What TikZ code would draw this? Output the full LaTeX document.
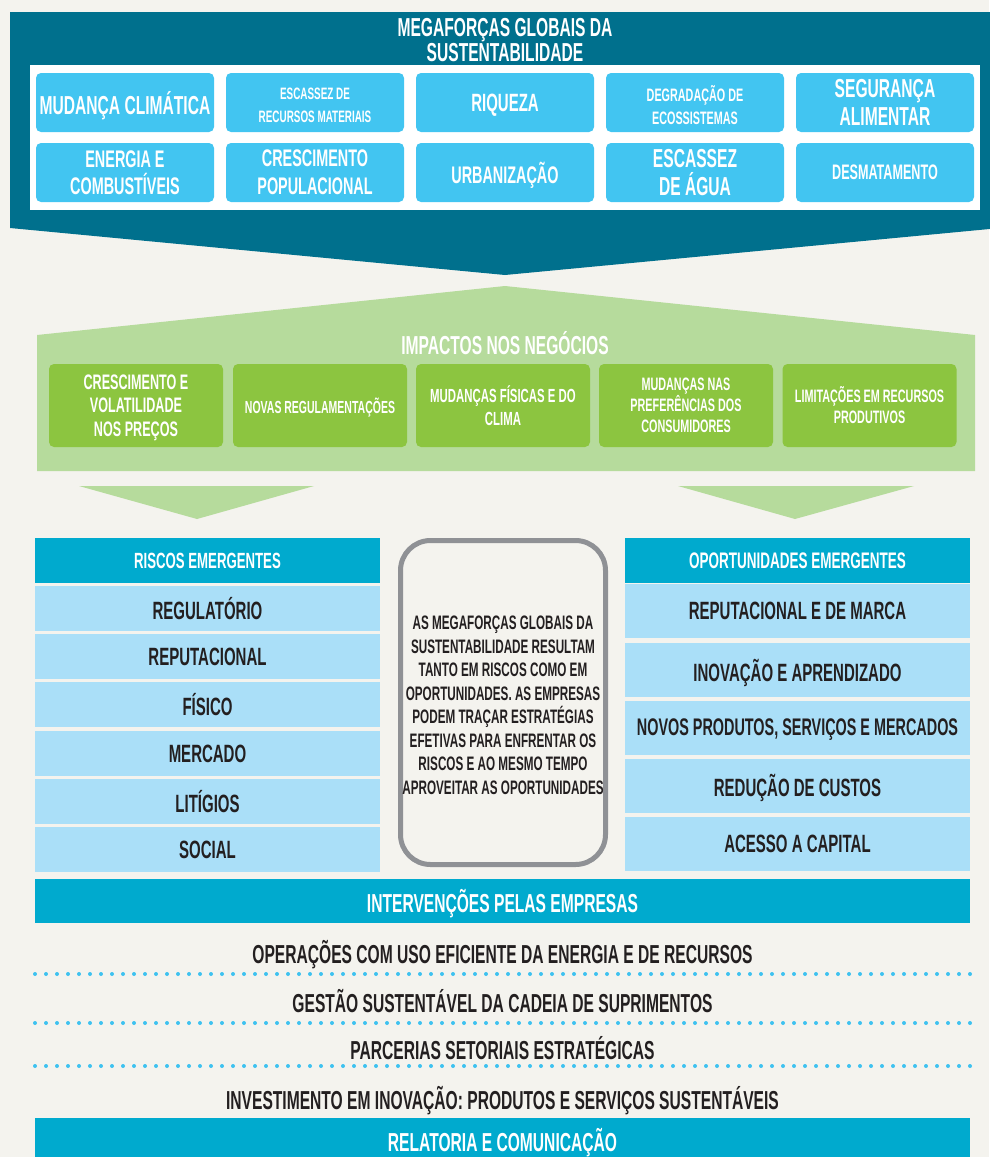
\documentclass[tikz,border=0pt]{standalone}
\usepackage{fontspec}
\setmainfont{Liberation Sans}[FakeStretch=0.6]
\newcommand\fz[2]{\fontsize{#1pt}{#2pt}\selectfont\bfseries}
\definecolor{bgc}{HTML}{F4F3EE}
\definecolor{tealdark}{HTML}{00708D}
\definecolor{topblue}{HTML}{42C5F1}
\definecolor{lgreen}{HTML}{B6DB9C}
\definecolor{dgreen}{HTML}{8CC540}
\definecolor{cyanh}{HTML}{00AACE}
\definecolor{lblue}{HTML}{AADFF8}
\definecolor{grayb}{HTML}{8F9195}
\definecolor{dotc}{HTML}{3EC2F0}
\definecolor{dtext}{HTML}{231F20}
\tikzset{
  box/.style={rectangle, inner sep=0pt, outer sep=0pt},
  tbox/.style={box, fill=topblue, rounded corners=5pt, minimum width=178pt, minimum height=59pt, text=white, align=center},
  gbox/.style={box, fill=dgreen, rounded corners=5pt, minimum width=174pt, minimum height=83pt, text=white, align=center},
  one/.style={text depth=0pt},
  hdr/.style={box, fill=cyanh, minimum width=345pt, minimum height=45pt, text=white, font=\fz{22}{26}, text depth=0pt},
  litem/.style={box, fill=lblue, minimum width=345pt, minimum height=45pt, text=dtext, font=\fz{25}{30}, text depth=0pt},
  ritem/.style={box, fill=lblue, minimum width=345pt, minimum height=54pt, text=dtext, font=\fz{25}{30}, text depth=0pt},
  bar/.style={box, fill=cyanh, minimum width=935pt, minimum height=44pt, text=white, font=\fz{26}{30}, text depth=0pt},
  iline/.style={box, text=dtext, font=\fz{26}{30}, text depth=0pt},
  tlabel/.style={box, text=white, align=center},
  dots/.style={dotc, line width=4pt, line cap=round, dash pattern=on 0pt off 11pt},
}
\begin{document}
\begin{tikzpicture}[x=1pt,y=-1pt]
\useasboundingbox (0,0) rectangle (989,1157);
\fill[bgc] (0,0) rectangle (989,1157);
% top megaforces shape
\fill[tealdark] (10,12) -- (1000,12) -- (1000,228) -- (505,275) -- (10,228) -- cycle;
\node[box, text=white, align=center, font=\fz{26}{25}, text depth=0pt] (title) at (505,40) {MEGAFORÇAS GLOBAIS DA\\SUSTENTABILIDADE};
\fill[white] (30,65) rectangle (980,210);
\node[tbox, one, font=\fz{26}{30}] (n11) at (125,102.5) {MUDANÇA CLIMÁTICA};
\node[tbox] (n12) at (315,102.5) {};
\node[tlabel, font=\fz{16.5}{23}] (n12t) at (315,105.5) {ESCASSEZ DE\\RECURSOS MATERIAIS};
\node[tbox, one, font=\fz{25}{30}] (n13) at (505,102.5) {RIQUEZA};
\node[tbox] (n14) at (695,102.5) {};
\node[tlabel, font=\fz{18}{23}] (n14t) at (695,105) {DEGRADAÇÃO DE\\ECOSSISTEMAS};
\node[tbox, font=\fz{26}{28}] (n15) at (885,102.5) {SEGURANÇA\\ALIMENTAR};
\node[tbox, font=\fz{24}{27}] (n21) at (125,172.5) {ENERGIA E\\COMBUSTÍVEIS};
\node[tbox, font=\fz{24}{28}] (n22) at (315,172.5) {CRESCIMENTO\\POPULACIONAL};
\node[tbox, one, font=\fz{24}{28}] (n23) at (505,172.5) {URBANIZAÇÃO};
\node[tbox, font=\fz{26}{28}] (n24) at (695,172.5) {ESCASSEZ\\DE ÁGUA};
\node[tbox, one, font=\fz{21}{26}] (n25) at (885,172.5) {DESMATAMENTO};
% business impacts
\fill[lgreen] (37,335) -- (505,286) -- (975,335) -- (975,471) -- (37,471) -- cycle;
\node[box, text=white, font=\fz{26}{30}, text depth=0pt] (gtitle) at (505,343) {IMPACTOS NOS NEGÓCIOS};
\node[gbox, font=\fz{21}{23.5}, text depth=0pt] (g1) at (136,405.5) {CRESCIMENTO E\\VOLATILIDADE\\NOS PREÇOS};
\node[gbox, one, font=\fz{17.5}{22}] (g2) at (320,405.5) {NOVAS REGULAMENTAÇÕES};
\node[gbox, font=\fz{19}{23}] (g3) at (503,405.5) {MUDANÇAS FÍSICAS E DO\\CLIMA};
\node[gbox, font=\fz{18}{21}] (g4) at (686,405.5) {MUDANÇAS NAS\\PREFERÊNCIAS DOS\\CONSUMIDORES};
\node[gbox, font=\fz{18}{21}] (g5) at (869.5,405.5) {LIMITAÇÕES EM RECURSOS\\PRODUTIVOS};
\fill[lgreen] (79,486) -- (314,486) -- (197,519) -- cycle;
\fill[lgreen] (678,486) -- (914,486) -- (795,519) -- cycle;
% risks
\node[hdr] (rh) at (207.5,560.5) {RISCOS EMERGENTES};
\node[litem] (r1) at (207.5,608.5) {REGULATÓRIO};
\node[litem] (r2) at (207.5,656.5) {REPUTACIONAL};
\node[litem] (r3) at (207.5,704.5) {FÍSICO};
\node[litem] (r4) at (207.5,753.5) {MERCADO};
\node[litem] (r5) at (207.5,801.5) {LITÍGIOS};
\node[litem] (r6) at (207.5,849.5) {SOCIAL};
% opportunities
\node[hdr, font=\fz{22.5}{26}] (oh) at (797.5,560.5) {OPORTUNIDADES EMERGENTES};
\node[ritem] (o1) at (797.5,611) {REPUTACIONAL E DE MARCA};
\node[ritem] (o2) at (797.5,670) {INOVAÇÃO E APRENDIZADO};
\node[ritem, font=\fz{24}{30}] (o3) at (797.5,727.5) {NOVOS PRODUTOS, SERVIÇOS E MERCADOS};
\node[ritem] (o4) at (797.5,785.5) {REDUÇÃO DE CUSTOS};
\node[ritem] (o5) at (797.5,844) {ACESSO A CAPITAL};
% middle note
\node[box, draw=grayb, line width=5pt, rounded corners=30pt, minimum width=205pt, minimum height=324pt] (mid) at (503,702.5) {};
\node[box, text=dtext, align=center, font=\fz{19.5}{23.5}, text depth=0pt] (midtext) at (503,705) {AS MEGAFORÇAS GLOBAIS DA\\SUSTENTABILIDADE RESULTAM\\TANTO EM RISCOS COMO EM\\OPORTUNIDADES. AS EMPRESAS\\PODEM TRAÇAR ESTRATÉGIAS\\EFETIVAS PARA ENFRENTAR OS\\RISCOS E AO MESMO TEMPO\\APROVEITAR AS OPORTUNIDADES};
% interventions
\node[bar] (ib) at (502.5,901) {INTERVENÇÕES PELAS EMPRESAS};
\node[iline] (i1) at (502.5,952) {OPERAÇÕES COM USO EFICIENTE DA ENERGIA E DE RECURSOS};
\node[iline] (i2) at (502.5,1001) {GESTÃO SUSTENTÁVEL DA CADEIA DE SUPRIMENTOS};
\node[iline] (i3) at (502.5,1048) {PARCERIAS SETORIAIS ESTRATÉGICAS};
\node[iline] (i4) at (502.5,1098) {INVESTIMENTO EM INOVAÇÃO: PRODUTOS E SERVIÇOS SUSTENTÁVEIS};
\coordinate (d1a) at (35,974); \coordinate (d1b) at (972,974);
\coordinate (d2a) at (35,1023); \coordinate (d2b) at (972,1023);
\coordinate (d3a) at (35,1066); \coordinate (d3b) at (972,1066);
\draw[dots] (d1a) -- (d1b);
\draw[dots] (d2a) -- (d2b);
\draw[dots] (d3a) -- (d3b);
\node[bar] (rb) at (502.5,1140) {RELATORIA E COMUNICAÇÃO};
\end{tikzpicture}
\end{document}
